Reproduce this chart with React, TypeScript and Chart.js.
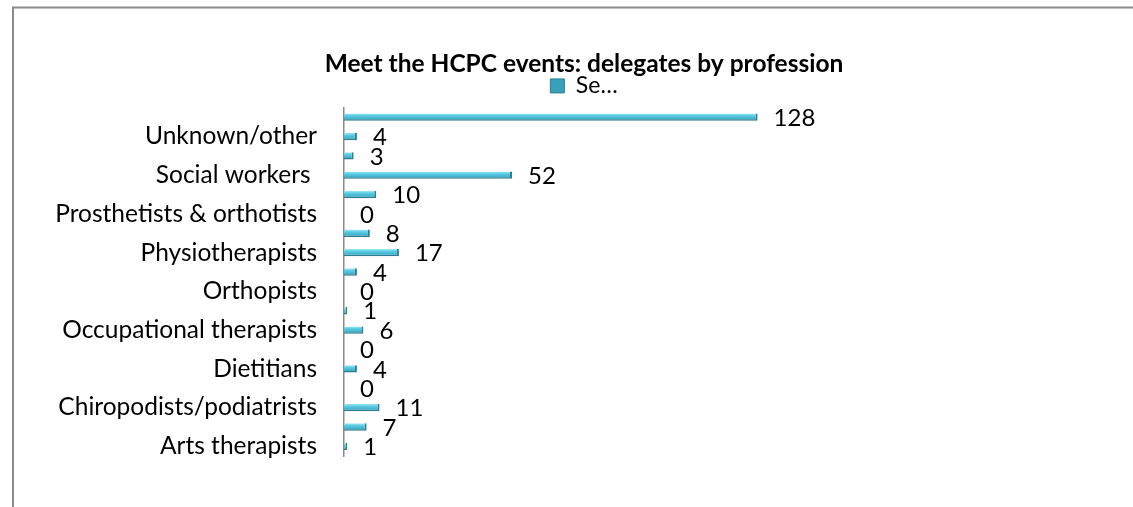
import { useEffect, useRef } from "react";
import { Chart, registerables } from "chart.js";

Chart.register(...registerables);

// ---- data (top to bottom, as drawn) ----
const tickLabels = [
  "",
  "Unknown/other",
  "",
  "Social workers ",
  "",
  "Prosthetists & orthotists",
  "",
  "Physiotherapists",
  "",
  "Orthopists",
  "",
  "Occupational therapists",
  "",
  "Dietitians",
  "",
  "Chiropodists/podiatrists",
  "",
  "Arts therapists",
];
const values = [128, 4, 3, 52, 10, 0, 8, 17, 4, 0, 1, 6, 0, 4, 0, 11, 7, 1];
const seriesName = "Se…";
const titleText = "Meet the HCPC events: delegates by profession";
const xMax = 238;

const FONT = "Lato";
const PAD_L = 55;
const PAD_R = 20;
const AXIS_X = 344;
const BAR_PCT = 0.38;

const framePlugin = {
  id: "frame",
  beforeDraw(chart: any) {
    const { ctx, width, height } = chart;
    ctx.save();
    ctx.fillStyle = "#ffffff";
    ctx.fillRect(0, 0, width, height);
    ctx.strokeStyle = "#8a8a8a";
    ctx.lineWidth = 2;
    ctx.beginPath();
    ctx.moveTo(13, height);
    ctx.lineTo(13, 7.5);
    ctx.lineTo(width, 7.5);
    ctx.stroke();
    ctx.restore();
  },
};

const valueLabelPlugin = {
  id: "valueLabels",
  afterDatasetsDraw(chart: any) {
    const { ctx } = chart;
    const meta = chart.getDatasetMeta(0);
    ctx.save();
    ctx.font = `24px ${FONT}`;
    ctx.fillStyle = "#000000";
    ctx.textAlign = "left";
    ctx.textBaseline = "middle";
    meta.data.forEach((bar: any, i: number) => {
      const { x, y } = bar.getProps(["x", "y"], true);
      ctx.fillText(String(values[i]), x + 16, y + 1);
    });
    ctx.restore();
  },
};

function barFill(c: any) {
  const chart = c.chart;
  const yScale = chart.scales?.y;
  if (!yScale || c.type !== "data") return "#4fc3dc";
  const y = yScale.getPixelForValue(c.dataIndex);
  const step = (yScale.bottom - yScale.top) / tickLabels.length;
  const h = step * BAR_PCT;
  const g = chart.ctx.createLinearGradient(0, y - h / 2, 0, y + h / 2);
  g.addColorStop(0, "#a4eaf7");
  g.addColorStop(0.3, "#5ccde5");
  g.addColorStop(0.7, "#42b3cc");
  g.addColorStop(1, "#2b8296");
  return g;
}

export default function App() {
  const ref = useRef<HTMLCanvasElement | null>(null);

  useEffect(() => {
    if (!ref.current) return;
    const chart = new Chart(ref.current, {
      type: "bar",
      data: {
        labels: tickLabels,
        datasets: [
          {
            label: seriesName,
            data: values,
            backgroundColor: barFill,
            borderColor: "#2f7d90",
            borderWidth: { top: 0, left: 0, right: 2, bottom: 1.5 },
            borderSkipped: false,
            categoryPercentage: 1,
            barPercentage: BAR_PCT,
          },
        ],
      },
      options: {
        indexAxis: "y",
        animation: false,
        responsive: true,
        maintainAspectRatio: false,
        layout: { padding: { left: PAD_L, right: PAD_R, top: 0, bottom: 51 } },
        plugins: {
          title: {
            display: true,
            text: titleText,
            color: "#000000",
            font: { family: FONT, size: 24.5, weight: "bold" },
            padding: { top: 49, bottom: -8 },
          },
          legend: {
            display: true,
            position: "top",
            labels: {
              boxWidth: 14,
              boxHeight: 14,
              padding: 4,
              color: "#000000",
              font: { family: FONT, size: 23 },
              generateLabels: () => [
                {
                  text: seriesName,
                  fillStyle: "#3a9fb8",
                  strokeStyle: "#2b7e91",
                  lineWidth: 1,
                  fontColor: "#000000",
                  hidden: false,
                  datasetIndex: 0,
                },
              ],
            },
          },
          tooltip: { enabled: false },
        },
        scales: {
          x: { display: false, min: 0, max: xMax },
          y: {
            grid: { display: false, drawTicks: false },
            border: { display: true, color: "#8a8a8a", width: 1.5 },
            ticks: {
              autoSkip: false,
              color: "#000000",
              padding: 27,
              font: { family: FONT, size: 24.5 },
              callback: (_v: any, i: number) => tickLabels[i],
            },
            afterFit: (scale: any) => {
              scale.width = AXIS_X - PAD_L;
            },
          },
        },
      },
      plugins: [framePlugin, valueLabelPlugin],
    });
    return () => chart.destroy();
  }, []);

  return (
    <div style={{ position: "absolute", left: 0, top: 0, width: 1133, height: 507 }}>
      <canvas ref={ref} />
    </div>
  );
}
